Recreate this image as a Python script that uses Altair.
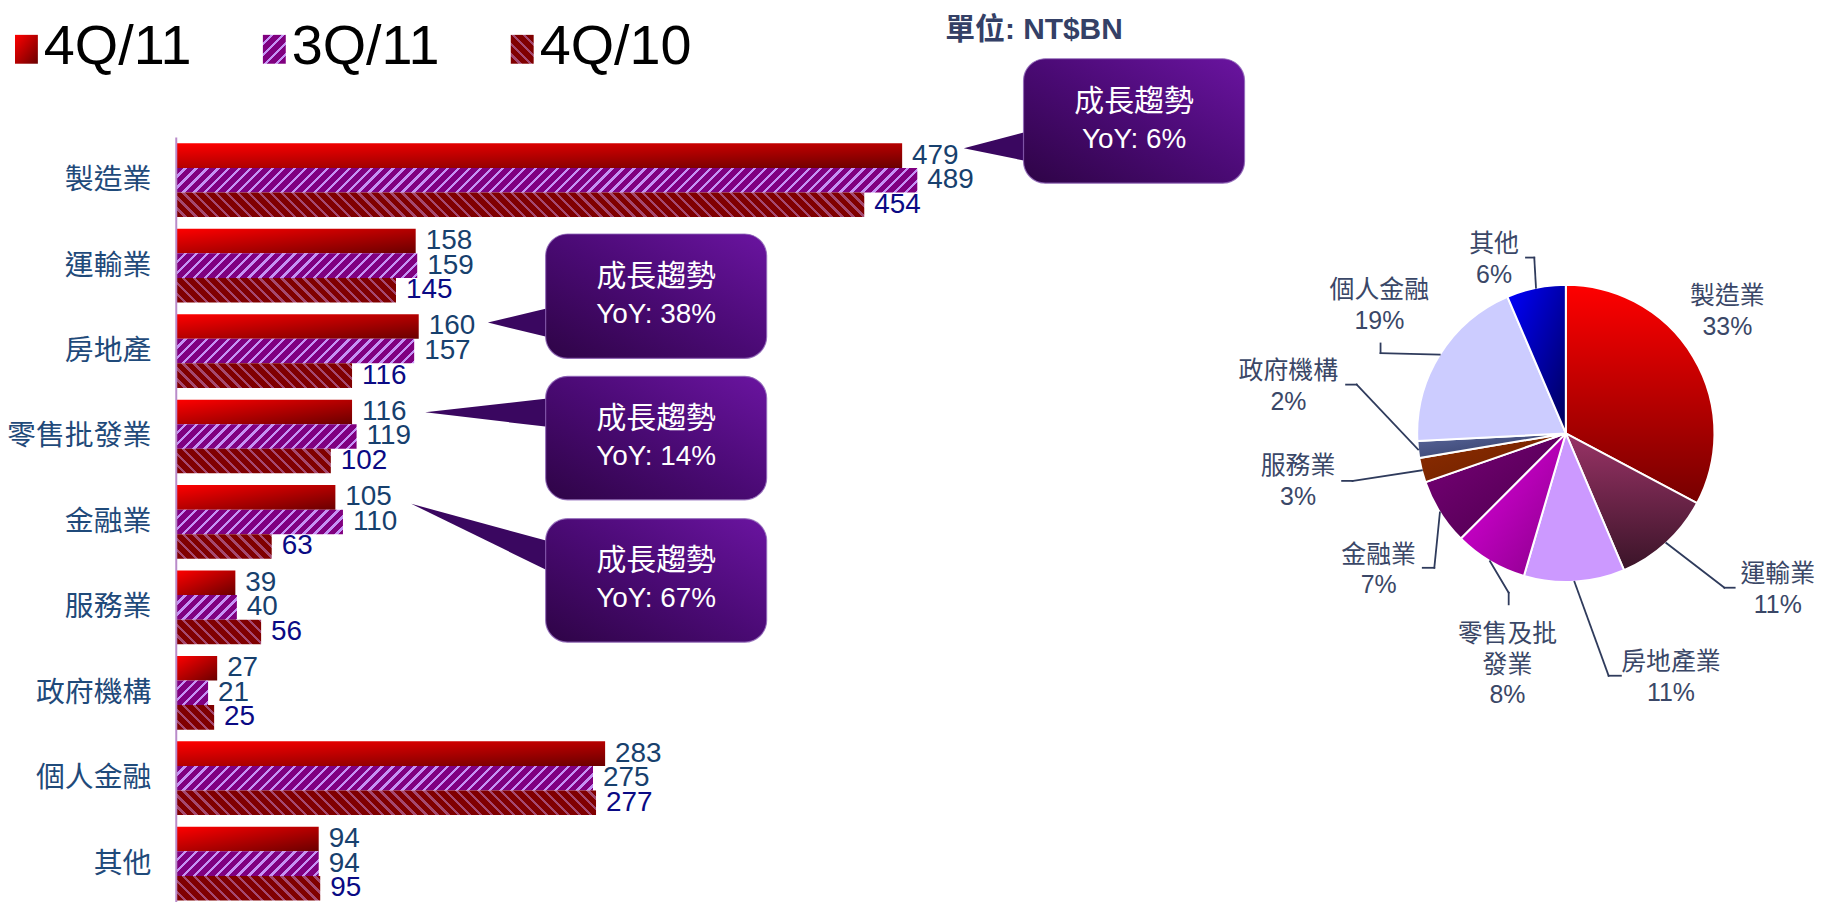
import altair as alt

# ---------------- data ----------------
CATEGORIES = ["製造業", "運輸業", "房地產", "零售批發業", "金融業", "服務業", "政府機構", "個人金融", "其他"]
SERIES = ["4Q/11", "3Q/11", "4Q/10"]
VAL_4Q11 = [479, 158, 160, 116, 105, 39, 27, 283, 94]
VAL_3Q11 = [489, 159, 157, 119, 110, 40, 21, 275, 94]
VAL_4Q10 = [454, 145, 116, 102, 63, 56, 25, 277, 95]
PIE_NAMES = ["製造業", "運輸業", "房地產業", "零售及批\n發業", "金融業", "服務業", "政府機構", "個人金融", "其他"]
CALLOUT_HEAD = "成長趨勢"
YOY_TEXT = ["YoY: 6%", "YoY: 38%", "YoY: 14%", "YoY: 67%"]
UNIT_TEXT = "單位: NT$BN"

# ---------------- layout (page pixels) ----------------
W = 1653
SVG_H = 894
STEP = 85.8
GROUP = 74.04
P_IN = 1 - GROUP / STEP
P_OUT = P_IN / 2
FIRST_BAR_TOP = 142
PAD_L = 169
PAD_T = FIRST_BAR_TOP - P_OUT * STEP - 8
H = SVG_H - PAD_T
X0, Y0 = 8 + PAD_L, 8 + PAD_T
XMAX = 1086
KX = W / XMAX
Y_RANGE = STEP * len(CATEGORIES)
SUB_H = GROUP / 3
CAT_LABEL_PAD = 25


def vx(px):
    return px - X0


def vy(py):
    return py - Y0


# pie geometry
PIE_C = (1572.7, 433.3)
PIE_R = 149.3
CXv, CYv = vx(PIE_C[0]), vy(PIE_C[1])
PIE_LH = 31
# label block centres, relative to pie centre
PIE_LABEL_OFF = [(162.3, -122.5), (212.9, 156.7), (105.6, 245.0), (-58.7, 232.3), (-188.0, 137.2),
                 (-269.0, 48.7), (-278.7, -46.9), (-187.3, -128.8), (-72.1, -174.8)]
# leader elbow and end points, relative to pie centre (None = no leader)
PIE_LEADER = [None,
              ((159.3, 155.0), (169.6, 155.0)),
              ((43.0, 243.4), (55.3, 243.4)),
              ((-57.4, 160.0), (-57.4, 171.7)),
              ((-132.1, 135.0), (-143.7, 135.0)),
              ((-214.3, 47.7), (-224.7, 47.7)),
              ((-210.1, -49.0), (-220.7, -49.0)),
              ((-186.1, -80.6), (-186.1, -90.3)),
              ((-31.7, -176.6), (-40.0, -176.6))]

# callouts: box (x1, x2, y1, y2), tail tip, tail base y-span (page px)
CALLOUT_BOX = [(1028, 1250, 57, 182), (548, 770, 233, 358), (548, 770, 376, 500), (548, 770, 519, 643)]
CALLOUT_TIP = [(968, 147), (490, 322), (427, 412), (413, 504)]
CALLOUT_BASE = [(130, 160), (307, 337), (398, 427), (542, 572)]
CALLOUT_LINE_GAP = 19

LEGEND_X = [15, 264, 513]
LEGEND_KEY = (23, 33, 62)  # key width, top, bottom
LEGEND_TEXT_GAP = 6

# ---------------- styles ----------------
RED_GRAD = {"gradient": "linear", "x1": 0, "y1": 0, "x2": 1, "y2": 1,
            "stops": [{"offset": 0, "color": "#ff0000"}, {"offset": 1, "color": "#6a0000"}]}
BOX_GRAD = {"gradient": "linear", "x1": 0, "y1": 1, "x2": 1, "y2": 0,
            "stops": [{"offset": 0, "color": "#2e0446"}, {"offset": 0.5, "color": "#4a0a74"},
                      {"offset": 1, "color": "#6a14a0"}]}
LABEL_COLORS = ["#17406d", "#17406d", "#0a0a84"]
AXIS_COLOR = "#b98bc9"
CAT_COLOR = "#1f4a7a"


def lin(x1, y1, x2, y2, c1, c2):
    return {"gradient": "linear", "x1": x1, "y1": y1, "x2": x2, "y2": y2,
            "stops": [{"offset": 0, "color": c1}, {"offset": 1, "color": c2}]}


PIE_FILLS = [lin(0, 0, 0, 1, "#ff0000", "#760000"),
             lin(0, 0, 0, 1, "#993366", "#3a1428"),
             "#cc99ff",
             lin(0, 0, 1, 1, "#e400e4", "#860086"),
             lin(0, 0, 1, 1, "#7a007a", "#480048"),
             lin(0, 0, 1, 1, "#8f2d00", "#6a2000"),
             lin(0, 0, 1, 1, "#5a679c", "#2c365e"),
             "#ccccff",
             lin(0, 0, 1, 1, "#0000ff", "#000058")]


def stripe_grad(w, h, base, light, frac, period, slash):
    L = w + h
    t = L / (w * w + h * h)
    if slash:
        x1, y1, x2, y2 = 0, 0, t * w, t * h
    else:
        x1, y1, x2, y2 = 0, 1, t * w, 1 - t * h
    stops = []
    c = 0.0
    while c < L:
        a = c / L
        b = min(1.0, (c + period * (1 - frac)) / L)
        e = min(1.0, (c + period) / L)
        stops += [{"offset": round(a, 5), "color": base}, {"offset": round(b, 5), "color": base},
                  {"offset": round(b, 5), "color": light}, {"offset": round(e, 5), "color": light}]
        c += period
    return {"gradient": "linear", "x1": x1, "y1": y1, "x2": x2, "y2": y2, "stops": stops}


def series_fill(s, w, h):
    if s == "4Q/11":
        return RED_GRAD
    if s == "3Q/11":
        return stripe_grad(w, h, "#800080", "#c592f5", 0.3, 11, True)
    return stripe_grad(w, h, "#800000", "#a5486f", 0.3, 11, False)


# ---------------- tables ----------------
bar_rows, lab_rows = [], []
for i, c in enumerate(CATEGORIES):
    for s, vals in zip(SERIES, [VAL_4Q11, VAL_3Q11, VAL_4Q10]):
        v = vals[i]
        bar_rows.append({"cat": c, "series": s, "value": v, "grad": series_fill(s, v * KX, SUB_H)})
        lab_rows.append({"cat": c, "series": s, "value": v})
cat_rows = [{"cat": c} for c in CATEGORIES]

pie_rows = []
for i, name in enumerate(PIE_NAMES):
    row = {"idx": i, "pname": name, "val": VAL_4Q11[i], "grad": PIE_FILLS[i],
           "ldx": PIE_LABEL_OFF[i][0], "ldy": PIE_LABEL_OFF[i][1], "leader": PIE_LEADER[i] is not None}
    if PIE_LEADER[i] is not None:
        (e1x, e1y), (e2x, e2y) = PIE_LEADER[i]
        row.update({"e1x": CXv + e1x, "e1y": CYv + e1y, "e2x": CXv + e2x, "e2y": CYv + e2y})
    pie_rows.append(row)

tail_rows, box_rows = [], []
for k, (bx1, bx2, by1, by2) in enumerate(CALLOUT_BOX):
    tx, ty = CALLOUT_TIP[k]
    b1, b2 = CALLOUT_BASE[k]
    tail_rows.append({"cid": k, "ax": vx(tx), "ay": vy(ty), "ay2": vy(ty)})
    tail_rows.append({"cid": k, "ax": vx(bx1 + 4), "ay": vy(b1), "ay2": vy(b2)})
    cy = (by1 + by2) / 2
    box_rows.append({"cid": k, "bx1": vx(bx1), "bx2": vx(bx2), "by1": vy(by1), "by2": vy(by2),
                     "tx": vx((bx1 + bx2) / 2), "ty1": vy(cy - CALLOUT_LINE_GAP),
                     "ty2": vy(cy + CALLOUT_LINE_GAP), "head": CALLOUT_HEAD, "yoy": YOY_TEXT[k]})

leg_rows = []
kw, ktop, kbot = LEGEND_KEY
for k, s in enumerate(SERIES):
    lx = LEGEND_X[k]
    leg_rows.append({"name": s, "lx": vx(lx), "lx2": vx(lx + kw), "ly": vy(ktop), "ly2": vy(kbot),
                     "tx": vx(lx + kw + LEGEND_TEXT_GAP), "grad": series_fill(s, kw, kbot - ktop)})

# ---------------- chart ----------------
y_scale = alt.Scale(domain=CATEGORIES, range=[0, Y_RANGE], paddingInner=P_IN, paddingOuter=P_OUT)
yoff = alt.YOffset("series:N", sort=SERIES, scale=alt.Scale(domain=SERIES, paddingInner=0, paddingOuter=0))
x_enc = alt.X("value:Q", stack=None, scale=alt.Scale(domain=[0, XMAX], nice=False, zero=True), axis=None)
y_enc = alt.Y("cat:N", sort=CATEGORIES, scale=y_scale, axis=None)

bars = alt.Chart(alt.Data(values=bar_rows)).mark_bar(strokeWidth=0).encode(
    x=x_enc, y=y_enc, yOffset=yoff, fill=alt.Fill("grad:N", scale=None),
)

labels = alt.Chart(alt.Data(values=lab_rows)).mark_text(
    align="left", baseline="middle", dx=10, font="Liberation Sans", fontSize=28
).encode(
    x=x_enc, y=y_enc, yOffset=yoff, text="value:Q",
    color=alt.Color("series:N", scale=alt.Scale(domain=SERIES, range=LABEL_COLORS), legend=None),
)

# category (axis) labels, placed by the band scale
cat_labels = alt.Chart(alt.Data(values=cat_rows)).mark_text(
    align="right", baseline="middle", font="Noto Sans CJK TC", fontSize=29, color=CAT_COLOR,
    dx=-CAT_LABEL_PAD
).encode(x=alt.value(0), y=y_enc, text="cat:N")

inner = alt.layer(bars, labels, cat_labels)

axis_line = alt.Chart(alt.Data(values=[{"a": 0}])).mark_rule(color=AXIS_COLOR, strokeWidth=2).encode(
    x=alt.value(0), y=alt.value(0), y2=alt.value(Y_RANGE)
)

tails = alt.Chart(alt.Data(values=tail_rows)).mark_area(color="#3a0760", orient="vertical",
                                                         interpolate="linear").encode(
    x=alt.X("ax:Q", scale=None, axis=None),
    y=alt.Y("ay:Q", scale=None, axis=None),
    y2="ay2:Q",
    detail="cid:N",
)

boxes = alt.Chart(alt.Data(values=box_rows)).mark_rect(
    cornerRadius=22, fill=BOX_GRAD, stroke="#9066b8", strokeWidth=1.2, strokeOpacity=0.8
).encode(
    x=alt.X("bx1:Q", scale=None, axis=None), x2="bx2:Q",
    y=alt.Y("by1:Q", scale=None, axis=None), y2="by2:Q",
)

chead = alt.Chart(alt.Data(values=box_rows)).mark_text(
    font="Noto Sans CJK TC", fontSize=30, color="white", align="center", baseline="middle"
).encode(
    x=alt.X("tx:Q", scale=None, axis=None),
    y=alt.Y("ty1:Q", scale=None, axis=None),
    text="head:N",
)
cyoy = alt.Chart(alt.Data(values=box_rows)).mark_text(
    font="Liberation Sans", fontSize=28, color="white", align="center", baseline="middle"
).encode(
    x=alt.X("tx:Q", scale=None, axis=None),
    y=alt.Y("ty2:Q", scale=None, axis=None),
    text="yoy:N",
)

pie = alt.Chart(alt.Data(values=pie_rows)).mark_arc(radius=PIE_R, stroke="white", strokeWidth=2).encode(
    theta=alt.Theta("val:Q", stack=True),
    order=alt.Order("idx:Q"),
    fill=alt.Fill("grad:N", scale=None),
    x=alt.value(CXv),
    y=alt.value(CYv),
)

pie_base = alt.Chart(alt.Data(values=pie_rows)).transform_joinaggregate(
    total="sum(val)"
).transform_window(
    cum="sum(val)", sort=[{"field": "idx"}], frame=[None, 0]
).transform_calculate(
    mid="(datum.cum - datum.val / 2) / datum.total * 2 * PI",
).transform_calculate(
    sx=f"{CXv} + {PIE_R} * sin(datum.mid)",
    sy=f"{CYv} - {PIE_R} * cos(datum.mid)",
    txt="datum.pname + '\\n' + format(datum.val / datum.total, '.0%')",
).transform_calculate(
    lx=f"{CXv} + datum.ldx",
    ly=f"{CYv} + datum.ldy - (length(split(datum.txt, '\\n')) - 1) * {PIE_LH / 2}",
)

LEADER_COLOR = "#2f3b5c"
lead1 = pie_base.transform_filter("datum.leader").mark_rule(color=LEADER_COLOR, strokeWidth=1.8,
                                                              strokeCap="square").encode(
    x=alt.X("sx:Q", scale=None, axis=None), y=alt.Y("sy:Q", scale=None, axis=None),
    x2="e1x:Q", y2="e1y:Q",
)
lead2 = pie_base.transform_filter("datum.leader").mark_rule(color=LEADER_COLOR, strokeWidth=1.8,
                                                              strokeCap="square").encode(
    x=alt.X("e1x:Q", scale=None, axis=None), y=alt.Y("e1y:Q", scale=None, axis=None),
    x2="e2x:Q", y2="e2y:Q",
)
plabels = pie_base.mark_text(
    font="Liberation Sans, Noto Sans CJK TC", fontSize=25, color="#3a4767",
    lineBreak="\n", lineHeight=PIE_LH, align="center", baseline="middle"
).encode(
    x=alt.X("lx:Q", scale=None, axis=None), y=alt.Y("ly:Q", scale=None, axis=None), text="txt:N",
)

leg_rect = alt.Chart(alt.Data(values=leg_rows)).mark_rect(strokeWidth=0).encode(
    x=alt.X("lx:Q", scale=None, axis=None), x2="lx2:Q",
    y=alt.Y("ly:Q", scale=None, axis=None), y2="ly2:Q",
    fill=alt.Fill("grad:N", scale=None),
)
leg_text = alt.Chart(alt.Data(values=leg_rows)).mark_text(
    font="Liberation Sans", fontSize=56, color="black", align="left", baseline="alphabetic"
).encode(
    x=alt.X("tx:Q", scale=None, axis=None), y=alt.Y("ly2:Q", scale=None, axis=None), text="name:N",
)

title = alt.Chart(alt.Data(values=[{"t": UNIT_TEXT}])).mark_text(
    font="Liberation Sans, Noto Sans CJK TC", fontSize=30, fontWeight="bold", color="#344066",
    align="center", baseline="alphabetic"
).encode(text="t:N", x=alt.value(vx(1038.5)), y=alt.value(vy(37.3)))

chart = alt.layer(
    inner, axis_line, tails, boxes, chead, cyoy, pie, lead1, lead2, plabels, leg_rect, leg_text, title
).resolve_scale(y="independent").properties(
    width=W, height=H,
    padding={"left": PAD_L, "top": PAD_T, "right": 0, "bottom": 0},
    autosize=alt.AutoSizeParams(type="none"),
).configure_view(strokeWidth=0)

chart.save("out.html", embed_options={"renderer": "svg", "actions": False})
